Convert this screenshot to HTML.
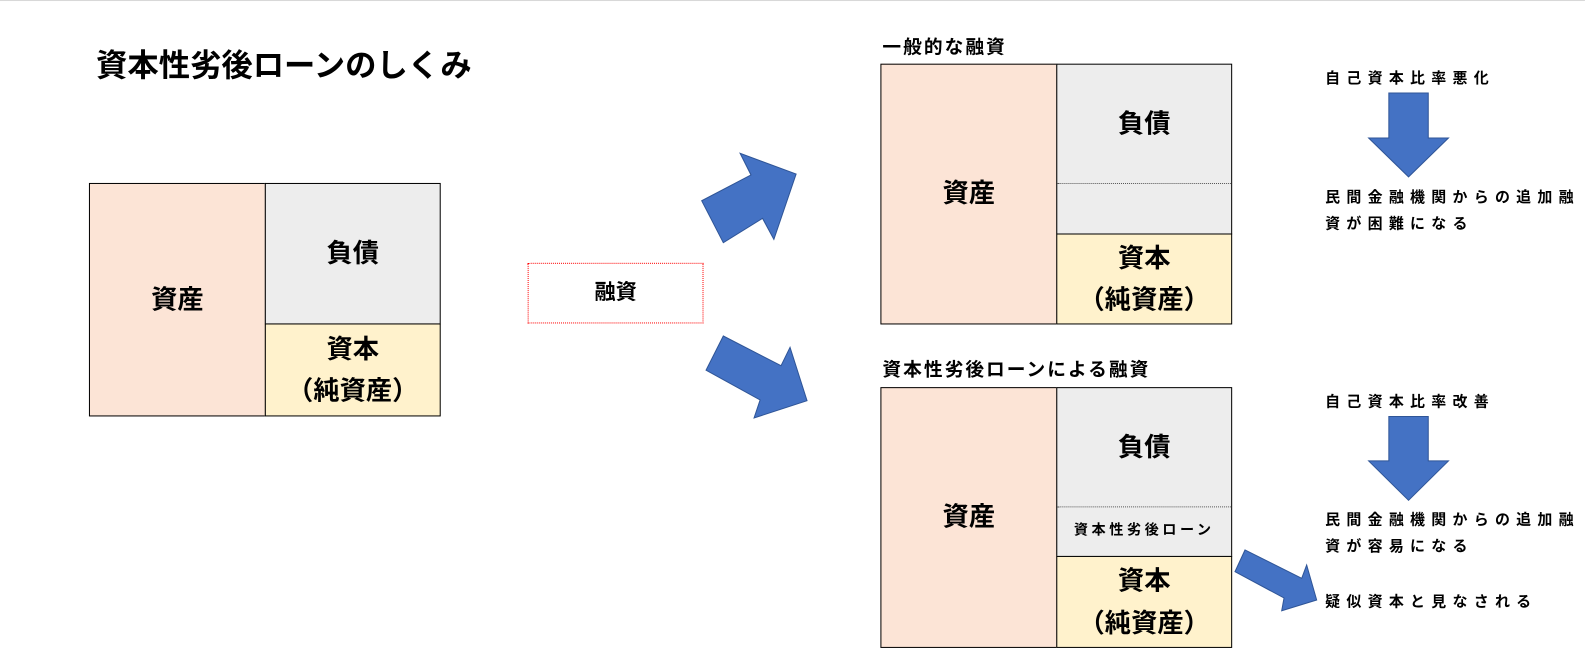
<!DOCTYPE html>
<html><head><meta charset="utf-8"><style>
body{margin:0;width:1585px;height:648px;background:#fff;position:relative;overflow:hidden;font-family:"Liberation Sans","Noto Sans CJK JP",sans-serif;color:#000}
#w{position:absolute;left:0;top:0;width:1568px;height:641px;transform:scale(1.0108);transform-origin:0 0}
.a{position:absolute}
.b{position:absolute;border:1px solid #000;box-sizing:border-box}
.c{display:flex;align-items:center;justify-content:center;text-align:center;font-weight:bold;font-size:26px;line-height:41.5px}
.t{position:absolute;font-size:14.8px;font-weight:bold;letter-spacing:6.2px;white-space:nowrap}
</style></head><body>
<div id="w">
<div class="a" style="left:0;top:0;width:1568px;height:1px;background:#d8d8d8"></div>
<div class="a" style="left:95px;top:39px;font-size:31px;font-weight:bold">資本性劣後ローンのしくみ</div>

<div class="b c" style="left:88px;top:181px;width:175px;height:231px;background:#fce4d6">資産</div>
<div class="b c" style="left:262px;top:181px;width:174px;height:140px;background:#ededed">負債</div>
<div class="b c" style="left:262px;top:320px;width:174px;height:92px;background:#fff2cc">資本<br>（純資産）</div>

<div class="a c" style="left:522px;top:260px;width:174px;height:60px;border:1px dotted #f00;box-sizing:border-box;font-size:21px">融資</div>

<svg class="a" style="left:0;top:0" width="1568" height="641">
<g fill="#4472c4" stroke="#2f5597" stroke-width="1">
<polygon points="694.2,198.6 743,173.1 732.2,151.7 787.6,172.2 765.6,236.8 754.4,216 715.6,240.1"/>
<polygon points="715.6,332.4 772.7,361.8 781.6,343.6 798.4,396.4 746,413.5 752,395.7 698.5,366.2"/>
<polygon points="1231.7,544.1 1287.8,572.1 1292.7,559 1302.6,593.6 1268,604.2 1270.3,591.6 1221.8,565.6"/>
<polygon points="1374,92 1413,92 1413,136.5 1433,136.5 1393.5,175 1354,136.5 1374,136.5"/>
<polygon points="1374,412 1413,412 1413,456 1433,456 1393.5,495 1354,456 1374,456"/>
</g>
</svg>

<div class="a" style="left:873px;top:33px;font-size:18.5px;font-weight:bold;letter-spacing:2px">一般的な融資</div>
<div class="b c" style="left:871px;top:63px;width:175px;height:258px;background:#fce4d6">資産</div>
<div class="b c" style="left:1045px;top:63px;width:174px;height:169px;background:#ededed;align-items:flex-start;padding-top:38px">負債</div>
<div class="a" style="left:1046px;top:181px;width:172px;border-top:1px dotted #555"></div>
<div class="b c" style="left:1045px;top:231px;width:174px;height:90px;background:#fff2cc">資本<br>（純資産）</div>

<div class="a" style="left:873px;top:352px;font-size:18.5px;font-weight:bold;letter-spacing:2px">資本性劣後ローンによる融資</div>
<div class="b c" style="left:871px;top:383px;width:175px;height:258px;background:#fce4d6">資産</div>
<div class="b c" style="left:1045px;top:383px;width:174px;height:168px;background:#ededed;align-items:flex-start;padding-top:38px">負債</div>
<div class="a" style="left:1046px;top:501px;width:172px;border-top:1px dotted #555"></div>
<div class="a" style="left:1046px;top:514px;width:172px;text-align:center;font-size:14px;font-weight:bold;letter-spacing:3.5px">資本性劣後ローン</div>
<div class="b c" style="left:1045px;top:550px;width:174px;height:91px;background:#fff2cc">資本<br>（純資産）</div>

<div class="t" style="left:1311px;top:66px">自己資本比率悪化</div>
<div class="t" style="left:1311px;top:184px">民間金融機関からの追加融</div>
<div class="t" style="left:1311px;top:210px">資が困難になる</div>
<div class="t" style="left:1311px;top:386px">自己資本比率改善</div>
<div class="t" style="left:1311px;top:503px">民間金融機関からの追加融</div>
<div class="t" style="left:1311px;top:529px">資が容易になる</div>
<div class="t" style="left:1311px;top:584px">疑似資本と見なされる</div>
</div>
</body></html>
